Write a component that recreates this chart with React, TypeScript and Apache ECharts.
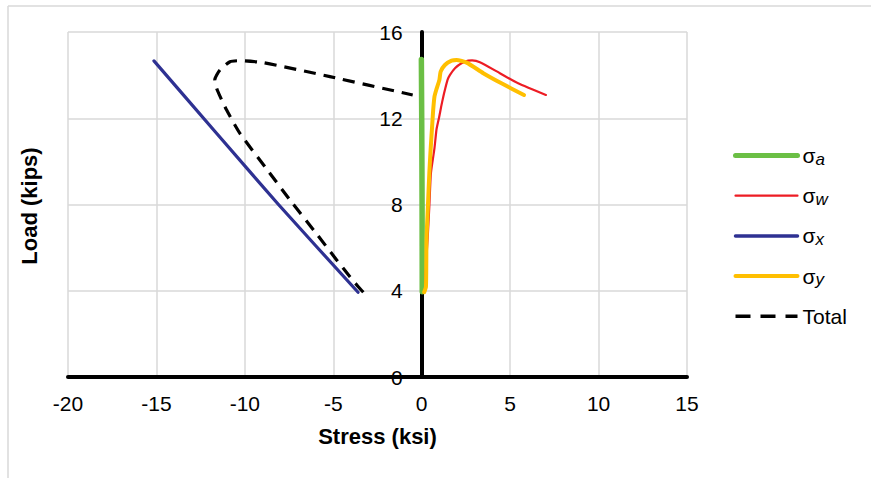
import React, { useEffect, useRef } from "react";
import * as echarts from "echarts";

const FONT = "'Liberation Sans', Arial, Helvetica, sans-serif";

// Tick values
const xTicks = { min: -20, max: 15, interval: 5 };
const yTicks = { min: 0, max: 16, interval: 4 };

// Series names
const seriesNames = ["σa", "σw", "σx", "σy", "Total"];

// σa
const stressA = [0.03, 0.02, 0.0, -0.02];
const loadA = [3.95, 8.0, 12.0, 14.72];

// σw
const stressW = [0.18, 0.27, 0.33, 0.43, 0.52, 0.72, 0.84, 0.99, 1.1, 1.22, 1.31, 1.46, 1.59, 1.88, 2.25, 2.63, 2.85, 3.29, 4.42, 5.45, 7.02];
const loadW = [3.95, 5.58, 6.35, 7.9, 9.45, 10.6, 11.5, 12.07, 12.54, 13.0, 13.31, 13.78, 14.0, 14.32, 14.55, 14.67, 14.68, 14.6, 14.09, 13.62, 13.08];

// σx
const stressX = [-15.14, -11.7, -8.1, -3.6];
const loadX = [14.66, 11.4, 8.0, 3.93];

// σy
const stressY = [0.14, 0.24, 0.27, 0.35, 0.43, 0.5, 0.6, 0.65, 0.72, 0.82, 1.0, 1.07, 1.31, 1.69, 1.97, 2.54, 3.48, 4.51, 5.78];
const loadY = [3.93, 4.19, 6.35, 7.9, 9.45, 10.5, 11.77, 12.4, 13.0, 13.31, 13.78, 14.16, 14.47, 14.67, 14.7, 14.58, 14.09, 13.62, 13.08];

// Total
const stressT = [-3.3, -3.6, -4.06, -4.81, -6.04, -7.45, -8.86, -10.28, -11.03, -11.56, -11.7, -11.41, -10.84, -10.28, -8.96, -5.19, -0.51];
const loadT = [3.93, 4.2, 4.65, 5.43, 6.74, 8.21, 9.75, 11.3, 12.38, 13.31, 13.78, 14.24, 14.62, 14.67, 14.58, 13.93, 13.08];

const pairs = (xs: number[], ys: number[]) => xs.map((x, i) => [x, ys[i]]);

const GRID_LEFT = 68;
const GRID_WIDTH = 619;

export default function App() {
  const ref = useRef<HTMLDivElement>(null);
  useEffect(() => {
    if (!ref.current) return;
    const chart = echarts.init(ref.current, null, { renderer: "svg" });
    const axisCommon = {
      type: "value",
      axisTick: { show: false },
      splitLine: { show: true, lineStyle: { color: "#d9d9d9", width: 1.5 } },
    };
    const colors = ["#6BBF45", "#ED1C24", "#2E3192", "#FFBF00", "#000000"];
    const widths = [5.5, 2.2, 3.2, 4, 3.2];
    const legendWidths = [5, 2.2, 3.5, 4, 3.5];
    const line = (i: number, data: number[][], extra: any = {}) => ({
      name: seriesNames[i],
      type: "line",
      data,
      showSymbol: false,
      symbol: "none",
      smooth: 0.2,
      lineStyle: { color: colors[i], width: widths[i], cap: "round", join: "round", ...extra },
      itemStyle: { color: colors[i] },
      z: 3,
    });
    // pixel offset that places the y axis at stress = 0
    const zeroOffset = -((0 - xTicks.min) / (xTicks.max - xTicks.min)) * GRID_WIDTH;
    chart.setOption({
      animation: false,
      backgroundColor: "#fff",
      grid: { left: GRID_LEFT, top: 32, width: GRID_WIDTH, bottom: 101, outerBoundsMode: "none" },
      xAxis: {
        ...axisCommon,
        min: xTicks.min,
        max: xTicks.max,
        interval: xTicks.interval,
        axisLine: { show: true, onZero: true, lineStyle: { color: "#000", width: 4 } },
        axisLabel: { fontSize: 21, color: "#000", margin: 16, fontFamily: FONT },
        name: "Stress (ksi)",
        nameLocation: "middle",
        nameGap: 48,
        nameTextStyle: { fontSize: 22, fontWeight: "bold", color: "#000", fontFamily: FONT },
      },
      yAxis: {
        ...axisCommon,
        min: yTicks.min,
        max: yTicks.max,
        interval: yTicks.interval,
        position: "left",
        offset: zeroOffset,
        axisLine: { show: true, onZero: false, lineStyle: { color: "#000", width: 4 } },
        axisLabel: { fontSize: 21, color: "#000", margin: 19, fontFamily: FONT },
      },
      legend: {
        orient: "vertical",
        left: 733,
        top: 145,
        padding: 0,
        itemWidth: 62,
        itemHeight: 20,
        itemGap: 17.7,
        itemStyle: { color: "rgba(0,0,0,0)", borderWidth: 0, opacity: 0 },
        data: seriesNames.map((name, i) => ({
          name,
          lineStyle:
            i === 4
              ? { width: legendWidths[i], type: [15, 10], dashOffset: 0, cap: "butt" }
              : { width: legendWidths[i] },
        })),
        formatter: (name: string) => (name === "Total" ? "Total" : "σ{s|" + name.slice(1) + "}"),
        textStyle: {
          fontSize: 21,
          color: "#000",
          fontFamily: FONT,
          rich: {
            s: { fontSize: 17, fontStyle: "italic", color: "#000", fontFamily: FONT, padding: [7, 0, 0, 0] },
          },
        },
      },
      graphic: [
        { type: "line", shape: { x1: 8, y1: 6, x2: 871, y2: 6 }, style: { stroke: "#d9d9d9", lineWidth: 1.5 } },
        { type: "line", shape: { x1: 8, y1: 6, x2: 8, y2: 478 }, style: { stroke: "#d9d9d9", lineWidth: 1.5 } },
        {
          type: "text",
          x: 29,
          y: 206,
          rotation: Math.PI / 2,
          style: {
            text: "Load (kips)",
            fontSize: 22,
            fontWeight: "bold",
            fontFamily: FONT,
            fill: "#000",
            align: "center",
            verticalAlign: "middle",
          },
        },
      ],
      series: [
        line(0, pairs(stressA, loadA)),
        line(1, pairs(stressW, loadW)),
        line(2, pairs(stressX, loadX)),
        line(3, pairs(stressY, loadY)),
        line(4, pairs(stressT, loadT), { type: [12, 8], cap: "butt" }),
      ],
    });
    return () => chart.dispose();
  }, []);
  return (
    <div
      ref={ref}
      style={{ position: "fixed", left: 0, top: 0, width: 871, height: 478, background: "#fff" }}
    />
  );
}
